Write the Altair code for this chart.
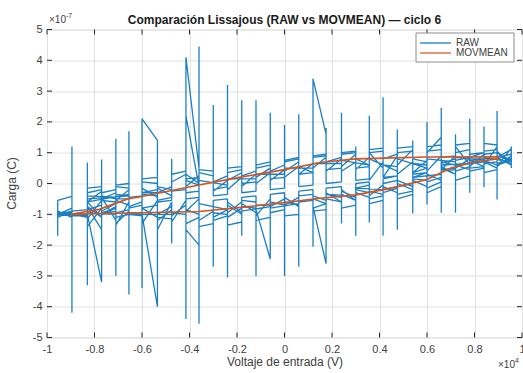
import altair as alt
import pandas as pd

# ---------------- data (x in 1e4 V, y in 1e-7 C) ----------------
lower_x = [-0.955, -0.895, -0.955, -0.895, -0.955, -0.895, -0.83, -0.77, -0.83, -0.77,
           -0.83, -0.71, -0.77, -0.71, -0.655, -0.71, -0.655, -0.6, -0.535, -0.6,
           -0.475, -0.535, -0.475, -0.415, -0.36, -0.415, -0.36, -0.3, -0.24, -0.3,
           -0.24, -0.18, -0.24, -0.18, -0.12, -0.18, -0.06, -0.12, -0.06, 0.0,
           -0.06, 0.06, 0.0, 0.06, 0.12, 0.175, 0.12, 0.175, 0.24, 0.175,
           0.3, 0.24, 0.3, 0.357, 0.3, 0.415, 0.357, 0.415, 0.475, 0.415,
           0.54, 0.475, 0.54, 0.6, 0.54, 0.66, 0.6, 0.66, 0.72, 0.66,
           0.78, 0.72, 0.78, 0.84, 0.78, 0.895, 0.84, 0.895, 0.955, 0.895, 0.955]
lower_y = [[-1.0, -1.05, -0.55], [-0.42, -1.0, -0.95], [-1.0, -1.7, -1.02], [-1.05, 1.2, -4.2, -1.0],
           [-0.95, -1.05, -1.0], [-1.0, -0.97], [-1.0, -1.3, -0.9, -0.6], [-1.1, -0.95, -0.7],
           [-0.85, -1.2, -1.0], [-3.2, 0.78, -0.95, -1.1], [-0.75, -3.3, -0.95], [-1.0, -1.5, -0.9, -0.65],
           [-0.9, -1.25, -1.0], [-0.8, -1.1], [-1.0, -3.6, 1.7, -1.1, -0.9], [-1.3, -3.0, 1.45, -0.95],
           [-0.85, -1.2, -1.0], [-1.05, -0.95, -3.4, -1.0], [-4.0, -0.95, -1.1], [-0.8, -1.0],
           [-1.0, -1.95, -0.9, -1.15], [-1.1, -0.85, -1.0], [-0.75, -0.95], [-1.0, -4.4, 4.1],
           [0.5, 4.45, 2.0, -4.55, -2.0], [-1.5, -0.95, -3.0, -0.85], [-1.0, -0.8, -1.2], [-0.9, -2.7, -0.85, -1.1],
           [-0.85, -0.65, -1.0], [-0.95, -0.75], [-0.85, -3.05, -0.9, -1.1], [-0.8, -1.7, -0.85, -0.6],
           [-0.95, -0.8, -0.7], [-1.0, -0.75], [-0.8, -3.0, -0.75, -0.95], [-0.65, -0.9],
           [-0.75, -0.9, -0.5, -0.7], [-0.7, -1.2, -0.85], [-2.45, -0.75, -0.6], [-0.7, -3.0, -0.65, -0.5],
           [-0.75, -1.4, -0.8], [-0.65, -2.7, -0.55, -0.7], [-0.6, -0.8, -0.7], [-0.45, -0.6],
           [-0.55, -2.05, -0.6, -0.75], [-2.6, -0.5, -0.45, -0.65], [-0.5, -0.6, -0.4], [-0.55, -0.35],
           [-0.45, -1.3, -0.4, -0.6], [-0.5, -0.35], [-0.4, -1.7, -0.35, -0.55], [-0.35, -0.5, -0.25],
           [-0.45, -0.2], [-0.3, -1.27, -0.25, -0.45], [-0.3, -0.15], [-0.2, -1.7, -0.15, -0.35],
           [-0.25, -0.1, -0.4], [-0.05, -0.3], [-0.15, -1.5, -0.05, -0.3], [-0.1, -0.2],
           [0.0, -0.97, 0.05, -0.2], [0.0, -0.1, 0.1], [-0.1, 0.15], [0.1, -0.68, 0.15, -0.1],
           [0.1, 0.2], [0.3, -0.95, 0.35, 0.1], [0.3, 0.4, 0.05], [0.2, 0.45],
           [0.5, -0.95, 0.55, 0.3], [0.5, 0.6], [0.65, -0.3, 0.7, 0.45], [0.6, 0.7, 0.4],
           [0.55, 0.75], [0.7, -0.12, 0.75, 0.55], [0.75, 0.8], [0.8, -0.52, 0.8, 0.6],
           [0.75, 0.8, 0.65], [0.7, 0.9], [0.8, 0.5, 1.0, 0.7, 0.9], [0.55, 0.85], [0.6, 1.05, 0.75]]

upper_x = [0.895, 0.955, 0.895, 0.955, 0.84, 0.895, 0.84, 0.78, 0.84, 0.72,
           0.78, 0.72, 0.66, 0.72, 0.6, 0.66, 0.6, 0.54, 0.6, 0.475,
           0.54, 0.475, 0.415, 0.475, 0.357, 0.415, 0.357, 0.3, 0.357, 0.24,
           0.3, 0.24, 0.175, 0.24, 0.12, 0.175, 0.12, 0.06, 0.12, 0.0,
           0.06, 0.0, -0.06, 0.0, -0.12, -0.06, -0.12, -0.18, -0.12, -0.24,
           -0.18, -0.24, -0.3, -0.24, -0.36, -0.415, -0.36, -0.415, -0.36, -0.415,
           -0.475, -0.535, -0.475, -0.535, -0.6, -0.535, -0.6, -0.535, -0.6, -0.655,
           -0.71, -0.655, -0.71, -0.77, -0.71, -0.77, -0.83, -0.71, -0.77, -0.83,
           -0.655, -0.83, -0.895, -0.955]
upper_y = [[0.9, 0.6, 1.0], [0.7, 1.2, 0.85, 0.6, 1.1], [0.85, 2.35, 1.0, 0.85], [0.95, 0.7],
           [0.85, 1.85, 0.9, 0.6], [1.2, 0.85, 0.5], [0.7, 1.0], [0.85, 2.1, 0.8, 0.55],
           [0.95, 0.75], [0.85, 1.6, 0.8, 0.5], [0.8, 1.0, 0.6], [1.2, 0.9],
           [0.85, 2.45, 0.8, 0.45], [0.9, 1.3, 0.7], [0.8, 2.0, 0.85, 0.4], [0.9, 0.6, 1.5],
           [1.0, 0.7], [0.8, 1.4, 0.85, 0.35], [0.75, 0.9, 0.5], [0.8, 1.75, 0.85, 0.3],
           [0.7, 0.9, 1.1], [0.6, 0.95], [0.8, 2.8, 0.85, 0.2], [0.9, 0.6, 0.4],
           [0.8, 2.2, 0.75, 0.1], [0.7, 0.9, 0.5], [1.0, 0.6], [0.8, 1.2, 0.75, 0.45],
           [0.85, 0.6], [0.75, 2.3, 0.8, 0.4], [0.7, 0.8, 0.95], [0.55, 0.85],
           [0.7, 1.8, 0.75, 0.4], [0.8, 0.65], [0.65, 3.4], [1.6, 0.75, 0.6, 0.85],
           [0.5, 0.7, 0.35], [0.55, 2.25, 0.6, 0.3], [0.65, 0.5], [0.5, 1.9, 0.45, 0.2],
           [0.55, 0.35, 0.7], [0.4, 0.6], [0.4, 2.3, 0.35, 0.1], [0.45, 0.3],
           [0.3, 2.7, 0.25, 0.0], [0.35, 0.2, 0.5], [0.2, 0.4], [0.25, 2.7, 0.2, -0.1],
           [0.3, 0.15], [0.15, 3.2, 0.1, -0.2], [0.2, 0.05, 0.35], [0.1, 0.25],
           [0.05, 2.55, 0.0, -0.25], [0.1, -0.05], [0.1, 4.45, 4.3, -0.1], [2.2, -0.15, 0.3],
           [0.0, -0.2, 0.25], [-0.1, -0.25, 0.15], [0.2, -0.05], [0.1, -0.2],
           [-0.25, 0.8, -0.3, -0.1], [-0.3, 1.15, -0.35, -0.1], [-0.2, -0.4], [-0.15, -0.3],
           [-0.3, 2.1], [1.4, -0.25, -0.4], [-0.35, -0.3, -0.15], [-0.45, -0.2],
           [-0.3, -0.4], [-0.45, -0.5], [-0.5, -0.3, -0.55], [-0.2, -0.6, -0.4],
           [-0.35, 0.4, -0.6], [-0.55, 0.4, -0.6, -0.3], [-0.2, -0.5], [-0.4, -0.65, -0.25],
           [-0.6, 0.68, -0.7, -0.4], [-0.45, -0.6, -0.3], [-0.5, -0.65, -1.5], [-0.75, -0.8, -0.5],
           [-0.4, -0.9, -0.35], [-0.6, -0.85], [-0.9, -1.0], [-1.0]]

# further passes of samples around each branch (dense band)
levels = [-0.955, -0.895, -0.83, -0.77, -0.71, -0.655, -0.6, -0.535, -0.475, -0.415, -0.36,
          -0.3, -0.24, -0.18, -0.12, -0.06, 0.0, 0.06, 0.12, 0.175, 0.24, 0.3, 0.357, 0.415,
          0.475, 0.54, 0.6, 0.66, 0.72, 0.78, 0.84, 0.895, 0.955]
lower2_y = [[-1.0, -0.9], [-1.1, -1.0], [-1.0, -0.7, -1.15], [-0.55, -1.0], [-0.75, -1.35],
            [-0.6, -0.95], [-0.95, -0.8], [-0.7, -1.2], [-0.85, -1.05], [-0.7, -1.3], [-1.1, -0.65],
            [-0.75, -1.2], [-1.05, -0.6], [-0.95, -0.55], [-0.6, -1.05], [-0.5, -0.95], [-0.85, -0.45],
            [-0.75, -0.4], [-0.35, -0.8], [-0.65, -0.3], [-0.6, -0.2], [-0.55, -0.15], [-0.05, -0.5],
            [-0.4, 0.0], [0.1, -0.35], [-0.25, 0.2], [0.35, -0.15], [0.05, 0.55], [0.3, 0.75],
            [0.85, 0.4], [0.5, 0.95], [1.0, 0.65], [0.75]]
upper2_y = [[1.0, 0.75], [0.6, 1.1], [1.05, 0.7], [0.65, 1.1], [1.0, 0.6], [0.7, 1.1],
            [1.05, 0.6], [0.65, 1.05], [1.0, 0.55], [0.6, 1.05], [1.0, 0.55], [0.5, 1.0],
            [0.95, 0.5], [0.45, 0.9], [0.85, 0.35], [0.3, 0.8], [0.7, 0.2], [0.15, 0.6],
            [0.5, 0.05], [0.0, 0.45], [0.35, -0.1], [-0.2, 0.25], [0.35, -0.25], [-0.3, 0.3],
            [0.05, -0.45], [-0.55, 0.0], [0.05, -0.6], [-0.75, -0.15], [-0.1, -0.8], [-0.95, -0.2],
            [-0.3, -1.0], [-1.05, -0.8], [-1.0]]
lower3_y = [[-0.95, -1.1], [-0.9, -1.05], [-1.05, -0.5, -1.4], [-0.8, -1.6, -0.45], [-1.2, -0.55],
            [-0.7, -1.3, -1.0], [-1.0, -0.6, -1.3], [-0.55, -1.5], [-0.6, -1.25], [-0.55, -1.6, -0.9],
            [-0.5, -1.4], [-1.3, -0.55], [-0.5, -1.35], [-1.25, -0.45], [-0.4, -1.2], [-1.1, -0.35],
            [-0.3, -1.05], [-1.0, -0.25], [-0.2, -0.9], [-0.85, -0.15], [-0.1, -0.8], [-0.7, 0.0],
            [0.05, -0.65], [-0.55, 0.15], [0.25, -0.5], [-0.35, 0.35], [0.5, -0.3], [-0.1, 0.65],
            [0.8, 0.1], [0.25, 0.95], [1.0, 0.35], [0.45, 1.05], [0.6, 0.95]]
upper3_y = [[0.8, 1.15], [0.55, 1.25], [1.3, 0.55], [0.5, 1.3], [1.25, 0.45], [0.4, 1.25],
            [1.2, 0.35], [0.3, 1.2], [1.15, 0.25], [0.2, 1.15], [1.1, 0.15], [0.1, 1.05],
            [1.0, 0.05], [0.0, 0.95], [0.9, -0.05], [-0.1, 0.85], [0.75, -0.15], [-0.2, 0.7],
            [0.6, -0.25], [-0.3, 0.55], [0.5, -0.35], [-0.4, 0.4], [0.45, -0.45], [-0.5, 0.4],
            [0.3, -0.55], [-0.6, 0.2], [0.15, -0.7], [-0.8, 0.0], [-0.05, -0.9], [-1.0, -0.1],
            [-0.15, -1.1], [-1.0, -0.9], [-1.0]]

mov_x = [-0.9, -0.6, -0.36, -0.15, 0.0, 0.15, 0.3, 0.45, 0.6, 0.7, 0.8, 0.9,
         0.9, 0.6, 0.3, 0.15, 0.0, -0.19, -0.36, -0.6, -0.66, -0.78, -0.9]
mov_y = [-1.0, -0.95, -0.91, -0.75, -0.62, -0.48, -0.37, -0.15, 0.13, 0.5, 0.7, 0.8,
         0.87, 0.86, 0.8, 0.68, 0.45, 0.2, -0.05, -0.42, -0.5, -0.84, -1.0]

x_ticks = [-1, -0.8, -0.6, -0.4, -0.2, 0, 0.2, 0.4, 0.6, 0.8, 1]
y_ticks = [-5, -4, -3, -2, -1, 0, 1, 2, 3, 4, 5]

title_text = "Comparación Lissajous (RAW vs MOVMEAN) — ciclo 6"
x_title = "Voltaje de entrada (V)"
y_title = "Carga (C)"
legend_labels = ["RAW", "MOVMEAN"]

# ---------------- tables ----------------
rows = []
i = 0
passes = ((lower_x, lower_y), (upper_x, upper_y),
          (levels, lower2_y), (levels[::-1], upper2_y),
          (levels, lower3_y), (levels[::-1], upper3_y))
for xs_, ys_ in passes:
    for xv, yl in zip(xs_, ys_):
        for yv in yl:
            rows.append({"i": i, "x": xv, "y": yv})
            i += 1
raw_df = pd.DataFrame(rows)
mov_df = pd.DataFrame({"i": range(len(mov_x)), "x": mov_x, "y": mov_y})
xt_df = pd.DataFrame({"x": x_ticks})
yt_df = pd.DataFrame({"y": y_ticks})
one = pd.DataFrame({"a": [0]})

W, H = 475, 308
FONT = "Liberation Sans"
BLUE = "#0072BD"
ORANGE = "#D95319"
TXT = "#404040"

xs = alt.Scale(domain=[-1, 1], nice=False, zero=False)
ys = alt.Scale(domain=[-5, 5], nice=False, zero=False)

xaxis = alt.Axis(values=x_ticks, labelExpr="'' + datum.value", title=None, ticks=False,
                 domain=False, grid=True, labelPadding=6, labelFontSize=11,
                 labelColor=TXT, labelFont=FONT, gridColor="#e2e2e2", labelFlush=False,
                 labelOverlap=False)
yaxis = alt.Axis(values=y_ticks, labelExpr="'' + datum.value", title=None, ticks=False,
                 domain=False, grid=True, labelPadding=5, labelFontSize=11,
                 labelColor=TXT, labelFont=FONT, gridColor="#e2e2e2", labelOverlap=False,
                 labelFlush=False)

X = alt.X("x:Q", scale=xs, axis=xaxis)
Y = alt.Y("y:Q", scale=ys, axis=yaxis)

raw = alt.Chart(raw_df).mark_line(color=BLUE, strokeWidth=1.3, opacity=0.9,
                                  strokeJoin="bevel", clip=True).encode(x=X, y=Y, order="i:Q")
mov = alt.Chart(mov_df).mark_line(color=ORANGE, strokeWidth=1.6, clip=True).encode(
    x=X, y=Y, order="i:Q")

tick_col = "#262626"
xt_top = alt.Chart(xt_df).mark_rule(color=tick_col, strokeWidth=1).encode(
    x=X, y=alt.value(0), y2=alt.value(5))
xt_bot = alt.Chart(xt_df).mark_rule(color=tick_col, strokeWidth=1).encode(
    x=X, y=alt.value(H), y2=alt.value(H - 5))
yt_left = alt.Chart(yt_df).mark_rule(color=tick_col, strokeWidth=1).encode(
    y=Y, x=alt.value(0), x2=alt.value(5))
yt_right = alt.Chart(yt_df).mark_rule(color=tick_col, strokeWidth=1).encode(
    y=Y, x=alt.value(W), x2=alt.value(W - 5))

def txt(text, x, y, size=11, weight="normal", align="center", angle=0, color=TXT):
    return alt.Chart(one).mark_text(text=text, fontSize=size, fontWeight=weight, font=FONT,
                                    align=align, baseline="middle", angle=angle,
                                    color=color).encode(x=alt.value(x), y=alt.value(y))

title = txt(title_text, W / 2, -10, size=12, weight="bold", color="#1a1a1a")
xtitle = txt(x_title, 238, 332, size=12)
ytitle = txt(y_title, -35, 154, size=12, angle=270)
exp_y1 = txt("×10", 2, -10, size=10, align="left")
exp_y2 = txt("-7", 19, -14, size=7, align="left")
exp_x1 = txt("×10", 451, 335, size=10, align="left")
exp_x2 = txt("4", 468, 331, size=7, align="left")

leg_box = alt.Chart(one).mark_rect(fill="white", stroke="#8c8c8c", strokeWidth=1).encode(
    x=alt.value(369), x2=alt.value(467), y=alt.value(3.5), y2=alt.value(32.5))
leg_raw = alt.Chart(one).mark_rule(color=BLUE, strokeWidth=1.2).encode(
    x=alt.value(373), x2=alt.value(404), y=alt.value(13.5))
leg_mov = alt.Chart(one).mark_rule(color=ORANGE, strokeWidth=1.2).encode(
    x=alt.value(373), x2=alt.value(404), y=alt.value(23.5))
leg_t1 = txt(legend_labels[0], 409, 13.5, size=10, align="left")
leg_t2 = txt(legend_labels[1], 409, 23.5, size=10, align="left")

chart = alt.layer(
    raw, mov, xt_top, xt_bot, yt_left, yt_right,
    leg_box, leg_raw, leg_mov, leg_t1, leg_t2,
    title, xtitle, ytitle, exp_y1, exp_y2, exp_x1, exp_x2,
).properties(
    width=W, height=H,
    autosize=alt.AutoSizeParams(type="none"),
    padding={"left": 47, "top": 29.5, "right": 1, "bottom": 35.5},
).configure_view(stroke="#262626", strokeWidth=1).configure(background="white")

chart.save("out.html", embed_options={"renderer": "svg", "actions": False})
